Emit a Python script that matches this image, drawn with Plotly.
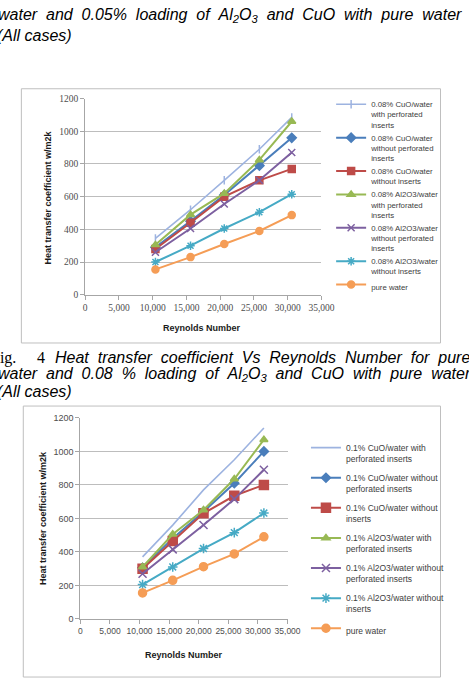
import plotly.graph_objects as go

W, H = 469, 685

# ---------------- data ----------------
reynolds_a = [10400, 15600, 20600, 25800, 30600]
reynolds_b = [10500, 15600, 20800, 26000, 31000]

names_a = [
    "0.08% CuO/water<br>with perforated<br>inserts",
    "0.08% CuO/water<br>without perforated<br>inserts",
    "0.08% CuO/water<br>without inserts",
    "0.08% Al2O3/water<br>with perforated<br>inserts",
    "0.08% Al2O3/water<br>without perforated<br>inserts",
    "0.08% Al2O3/water<br>without inserts",
    "pure water",
]
values_a = [
    [345, 520, 700, 890, 1085],
    [290, 450, 610, 790, 960],
    [280, 440, 600, 700, 770],
    [305, 490, 620, 825, 1060],
    [260, 405, 555, 700, 870],
    [200, 300, 405, 505, 615],
    [155, 230, 310, 390, 487],
]

names_b = [
    "0.1% CuO/water with<br>perforated inserts",
    "0.1% CuO/water without<br>perforated inserts",
    "0.1% CuO/water without<br>inserts",
    "0.1% Al2O3/water with<br>perforated inserts",
    "0.1% Al2O3/water without<br>perforated inserts",
    "0.1% Al2O3/water without<br>inserts",
    "pure water",
]
values_b = [
    [370, 560, 770, 950, 1140],
    [305, 480, 640, 810, 1000],
    [300, 465, 630, 735, 800],
    [310, 505, 650, 835, 1070],
    [270, 415, 560, 715, 890],
    [205, 310, 420, 515, 632],
    [155, 230, 312, 388, 490],
]

y_ticks = [0, 200, 400, 600, 800, 1000, 1200]
x_ticks = [0, 5000, 10000, 15000, 20000, 25000, 30000, 35000]

# ---------------- styles ----------------
colors = ["#9DB3E0", "#4A7EBB", "#BE4B48", "#98B954", "#7D60A0", "#46AAC5", "#F59D56"]
symbols_a = ["line-ns-open", "diamond", "square", "triangle-up", "x-thin-open", "asterisk-open", "circle"]
sizes_a = [6, 7, 7, 7, 7, 7, 7]
symbols_b = ["line-ns-open", "diamond", "square", "triangle-up", "x-thin-open", "asterisk-open", "circle"]
sizes_b = [0, 7, 9, 7, 8, 8, 8]


def px(x):
    return x / W


def py(y):
    return 1 - y / H


fig = go.Figure()

for i in range(7):
    fig.add_trace(go.Scatter(
        x=reynolds_a, y=values_a[i], name=names_a[i], mode="lines+markers",
        line=dict(color=colors[i], width=2 if i else 1.6),
        marker=dict(symbol=symbols_a[i], size=sizes_a[i], color=colors[i],
                    line=dict(color=colors[i], width=1.5)),
        xaxis="x", yaxis="y", legend="legend", legendgroup="a%d" % i,
    ))
for i in range(7):
    fig.add_trace(go.Scatter(
        x=reynolds_b, y=values_b[i], name=names_b[i],
        mode="lines" if sizes_b[i] == 0 else "lines+markers",
        line=dict(color=colors[i], width=2 if i else 1.6),
        marker=dict(symbol=symbols_b[i], size=max(sizes_b[i], 1), color=colors[i],
                    line=dict(color=colors[i], width=1.5)),
        xaxis="x2", yaxis="y2", legend="legend2", legendgroup="b%d" % i,
    ))

grid = "#BDBDBD"
tick_col = "#4D4D4D"

common_x = dict(range=[0, 35000], tickvals=x_ticks, tickformat=",", showgrid=False,
                showline=True, linecolor="#A6A6A6", ticks="outside", ticklen=4,
                tickcolor="#A6A6A6", zeroline=False, fixedrange=True, tickangle=0)
common_y = dict(range=[0, 1200], tickvals=y_ticks, showgrid=True, gridcolor=grid,
                showline=True, linecolor="#A6A6A6", ticks="outside", ticklen=4,
                tickcolor="#A6A6A6", zeroline=False, fixedrange=True)

fig.update_layout(
    width=W, height=H, margin=dict(l=0, r=0, t=0, b=0),
    paper_bgcolor="white", plot_bgcolor="white",
    xaxis=dict(domain=[px(86), px(330)], anchor="y",
               tickfont=dict(family="Liberation Serif", size=9.5, color=tick_col), **common_x),
    yaxis=dict(domain=[py(294), py(95)], anchor="x",
               tickfont=dict(family="Liberation Serif", size=9.5, color=tick_col), **common_y),
    xaxis2=dict(domain=[px(81), px(295)], anchor="y2",
                tickfont=dict(family="Liberation Sans", size=8.5, color=tick_col), **common_x),
    yaxis2=dict(domain=[py(623), py(419)], anchor="x2",
                tickfont=dict(family="Liberation Sans", size=9, color=tick_col), **common_y),
    legend=dict(x=px(340), y=py(89), xanchor="left", yanchor="top", valign="top",
                bgcolor="rgba(0,0,0,0)", font=dict(family="Liberation Sans", size=7.8, color="#404040"),
                tracegroupgap=0, itemclick=False, itemdoubleclick=False),
    legend2=dict(x=px(314), y=py(437), xanchor="left", yanchor="top", valign="top",
                 bgcolor="rgba(0,0,0,0)", font=dict(family="Liberation Sans", size=8.5, color="#404040"),
                 tracegroupgap=5, itemclick=False, itemdoubleclick=False),
    showlegend=True,
)

# frames of the two chart areas
for (x0, y0, x1, y1) in [(20, 85, 453, 343), (22, 407, 453, 682)]:
    fig.add_shape(type="rect", xref="paper", yref="paper",
                  x0=px(x0), x1=px(x1), y0=py(y0), y1=py(y1),
                  line=dict(color="#BFBFBF", width=1), fillcolor="rgba(0,0,0,0)", layer="below")

ann = []
bold = dict(family="Liberation Sans", size=9, color="#1A1A1A")
ann.append(dict(text="<b>Heat transfer coefficient w/m2k</b>", x=px(48), y=py(195), textangle=-90, font=bold))
ann.append(dict(text="<b>Heat transfer coefficient w/m2k</b>", x=px(43), y=py(521), textangle=-90, font=bold))
ann.append(dict(text="<b>Reynolds Number</b>", x=px(207), y=py(328), font=bold))
ann.append(dict(text="<b>Reynolds Number</b>", x=px(188), y=py(660), font=bold))

cap = dict(family="Liberation Sans", size=16, color="black")
ser = dict(family="Liberation Serif", size=16, color="black")
S = " &nbsp;"  # justified word spacing
ann.append(dict(text="<i>" + S.join(["water", "and", "0.05%", "loading", "of",
                                     "Al<sub>2</sub>O<sub>3</sub>", "and", "CuO", "with", "pure", "water"]) + "</i>",
                x=px(-6), y=py(11), xanchor="left", font=cap))
ann.append(dict(text="<i>(All cases)</i>", x=px(-7), y=py(31), xanchor="left", font=cap))
ann.append(dict(text="Fig.", x=px(17), y=py(358), xanchor="right", font=ser))
ann.append(dict(text="4", x=px(40), y=py(358), xanchor="center", font=ser))
ann.append(dict(text="<i>" + S.join(["Heat", "transfer", "coefficient", "Vs", "Reynolds", "Number",
                                     "for", "pure"]) + "</i>",
                x=px(53), y=py(358), xanchor="left", font=cap))
ann.append(dict(text="<i>" + S.join(["water", "and", "0.08", "%", "loading", "of",
                                     "Al<sub>2</sub>O<sub>3</sub>", "and", "CuO", "with", "pure", "water"]) + "</i>",
                x=px(-6), y=py(375), xanchor="left", font=cap))
ann.append(dict(text="<i>(All cases)</i>", x=px(-7), y=py(392), xanchor="left", font=cap))

for a in ann:
    a.setdefault("xanchor", "center")
    a.setdefault("yanchor", "middle")
    fig.add_annotation(xref="paper", yref="paper", showarrow=False, **a)

fig.write_html("out.html")
